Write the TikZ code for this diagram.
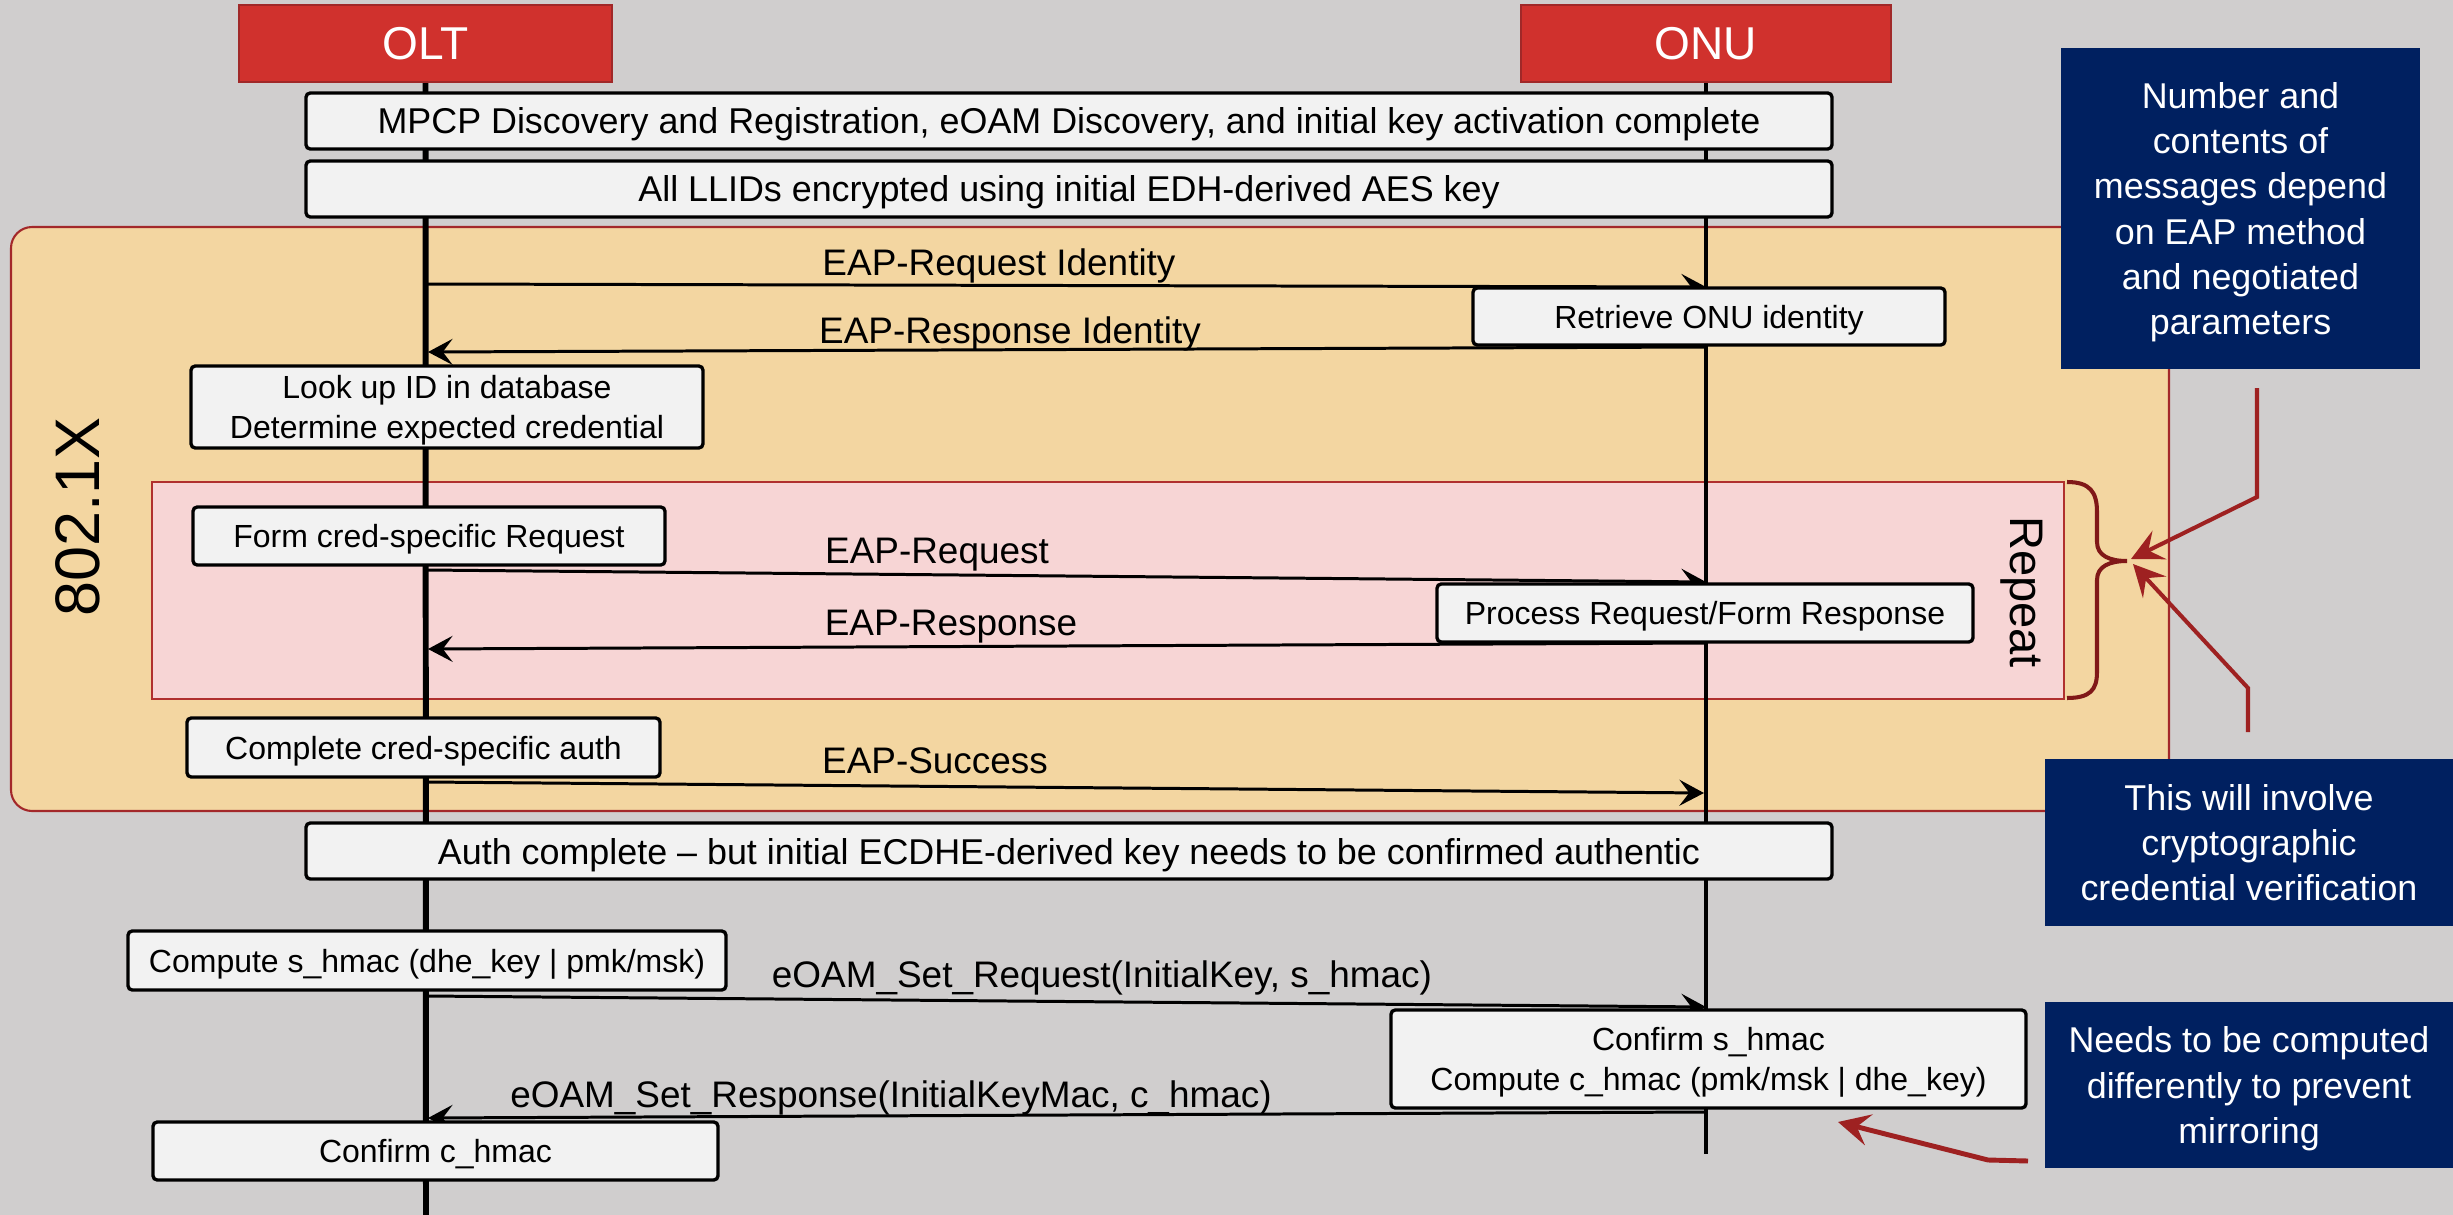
\documentclass[tikz,border=0pt]{standalone}
\usepackage{fontspec}
\setmainfont{Liberation Sans}
\usetikzlibrary{arrows.meta}
\definecolor{bgc}{HTML}{D0CECE}
\definecolor{yelfill}{HTML}{F3D6A1}
\definecolor{yeldraw}{HTML}{A3282A}
\definecolor{pinkfill}{HTML}{F7D5D5}
\definecolor{pinkdraw}{HTML}{B0302E}
\definecolor{actred}{HTML}{D0312D}
\definecolor{actdraw}{HTML}{A02828}
\definecolor{boxgray}{HTML}{F2F2F2}
\definecolor{navyc}{HTML}{002060}
\definecolor{arrred}{HTML}{9E2121}
\definecolor{bracered}{HTML}{801818}
\begin{document}
\begin{tikzpicture}[x=0.01cm,y=-0.01cm,
  sz/.style 2 args={minimum width=#1*0.01cm, minimum height=#2*0.01cm},
  actor/.style={draw=actdraw, line width=0.6pt, fill=actred, inner sep=0pt, text=white, text depth=0pt,
    font=\fontsize{13.1pt}{15pt}\selectfont},
  banner/.style={draw=black, line width=0.95pt, fill=boxgray, rounded corners=1.2pt, inner sep=0pt, text depth=0pt,
    font=\fontsize{10.2pt}{12pt}\selectfont},
  stepbox/.style={draw=black, line width=0.95pt, fill=boxgray, rounded corners=1.2pt, inner sep=0pt, text depth=0pt,
    align=center, font=\fontsize{9.1pt}{11.2pt}\selectfont},
  note/.style={fill=navyc, inner sep=0pt, text=white, align=center, text depth=0pt,
    font=\fontsize{10.2pt}{12.8pt}\selectfont},
  msglbl/.style={anchor=base, inner sep=0pt, font=\fontsize{10.5pt}{12pt}\selectfont},
  msg/.style={line width=0.85pt, -{Stealth[length=7pt,width=7.4pt,inset=2.8pt]}},
  redarrow/.style={draw=arrred, line width=1.15pt, -{Stealth[length=9pt,width=9pt,inset=3.5pt]}},
  lifeline/.style={line width=1.7pt}
]
\fill[bgc] (0,0) rectangle (2453,1215);
\useasboundingbox (0,0) rectangle (2453,1215);

% group frames
\node[draw=yeldraw, line width=0.6pt, fill=yelfill, rounded corners=6pt, inner sep=0pt, sz={2158}{584}] (frame8021x) at (1090,519) {};
\node[draw=pinkdraw, line width=0.6pt, fill=pinkfill, inner sep=0pt, sz={1912}{217}] (repeatframe) at (1108,590.5) {};
\node[rotate=90, inner sep=0pt, font=\fontsize{17.9pt}{20pt}\selectfont] (lbl8021x) at (78,517) {802.1X};
\node[rotate=-90, inner sep=0pt, font=\fontsize{13.4pt}{15pt}\selectfont] (lblrepeat) at (2022,592) {Repeat};

% actors
\node[actor, sz={373}{77}] (olt) at (425.5,43.5) {OLT};
\node[actor, sz={370}{77}] (onu) at (1706,43.5) {ONU};
\coordinate (oltend) at (426,1215);
\coordinate (onuend) at (1706,1154);
\draw[lifeline] (olt.south) -- (oltend);
\draw[lifeline, line width=1.4pt] (onu.south) -- (onuend);

% message end points
\coordinate (o1) at (426,284);  \coordinate (u1) at (1706,287);
\coordinate (u2) at (1706,347); \coordinate (o2) at (428,352);
\coordinate (o3) at (426,570);  \coordinate (u3) at (1706,582);
\coordinate (u4) at (1706,643); \coordinate (o4) at (428,649);
\coordinate (o5) at (426,782);  \coordinate (u5) at (1704,793);
\coordinate (o6) at (426,996);  \coordinate (u6) at (1706,1007);
\coordinate (u7) at (1706,1112);\coordinate (o7) at (428,1118);

\draw[msg] (o1) -- (u1);
\draw[msg] (u2) -- (o2);
\draw[msg] (o3) -- (u3);
\draw[msg] (u4) -- (o4);
\draw[msg] (o5) -- (u5);
\draw[msg] (o6) -- (u6);
\draw[msg] (u7) -- (o7);

\node[msglbl] (l1) at (999,275) {EAP-Request Identity};
\node[msglbl] (l2) at (1010,343) {EAP-Response Identity};
\node[msglbl] (l3) at (937,563) {EAP-Request};
\node[msglbl] (l4) at (951,635) {EAP-Response};
\node[msglbl] (l5) at (935,773) {EAP-Success};
\node[msglbl] (l6) at (1102,987) {eOAM\_Set\_Request(InitialKey, s\_hmac)};
\node[msglbl] (l7) at (891,1107) {eOAM\_Set\_Response(InitialKeyMac, c\_hmac)};

% banners
\node[banner, sz={1526}{56}] (mpcp) at (1069,121) {MPCP Discovery and Registration, eOAM Discovery, and initial key activation complete};
\node[banner, sz={1526}{56}] (llid) at (1069,189) {All LLIDs encrypted using initial EDH-derived AES key};
\node[banner, sz={1526}{56}] (authc) at (1069,851) {Auth complete – but initial ECDHE-derived key needs to be confirmed authentic};

% step boxes
\node[stepbox, sz={472}{57}] (retrieve) at (1709,316.5) {Retrieve ONU identity};
\node[stepbox, sz={512}{82}] (lookup) at (447,407) {Look up ID in database\\Determine expected credential};
\node[stepbox, sz={472}{58}] (formreq) at (429,536) {Form cred-specific Request};
\node[stepbox, sz={536}{58}] (process) at (1705,613) {Process Request/Form Response};
\node[stepbox, sz={473}{59}] (complete) at (423.5,747.5) {Complete cred-specific auth};
\node[stepbox, sz={598}{59}] (computes) at (427,960.5) {Compute s\_hmac (dhe\_key | pmk/msk)};
\node[stepbox, sz={635}{98}] (confirms) at (1708.5,1059) {Confirm s\_hmac\\Compute c\_hmac (pmk/msk | dhe\_key)};
\node[stepbox, sz={565}{58}] (confirmc) at (435.5,1151) {Confirm c\_hmac};

% notes
\node[note, sz={359}{321}] (note1) at (2240.5,208.5) {Number and\\contents of\\messages depend\\on EAP method\\and negotiated\\parameters};
\node[note, sz={408}{167}] (note2) at (2249,842.5) {This will involve\\cryptographic\\credential verification};
\node[note, sz={408}{166}] (note3) at (2249,1085) {Needs to be computed\\differently to prevent\\mirroring};

% brace
\draw[bracered, line width=1.15pt]
  (2067,482) .. controls (2090,482) and (2097,492) .. (2097,512)
  -- (2097,542) .. controls (2097,556) and (2110,561) .. (2127,561)
  .. controls (2110,561) and (2097,566) .. (2097,580)
  -- (2097,672) .. controls (2097,690) and (2090,698) .. (2067,698);

% red pointer arrows
\coordinate (a1s) at (2257,388); \coordinate (a1b) at (2257,497); \coordinate (a1t) at (2131,559);
\coordinate (a2s) at (2248,732); \coordinate (a2b) at (2248,688); \coordinate (a2t) at (2133,564);
\coordinate (a3s) at (2028,1161); \coordinate (a3b) at (1988,1160); \coordinate (a3t) at (1838,1122);
\draw[redarrow] (a1s) -- (a1b) -- (a1t);
\draw[redarrow] (a2s) -- (a2b) -- (a2t);
\draw[redarrow, line width=1.4pt] (a3s) -- (a3b) -- (a3t);
\end{tikzpicture}
\end{document}
